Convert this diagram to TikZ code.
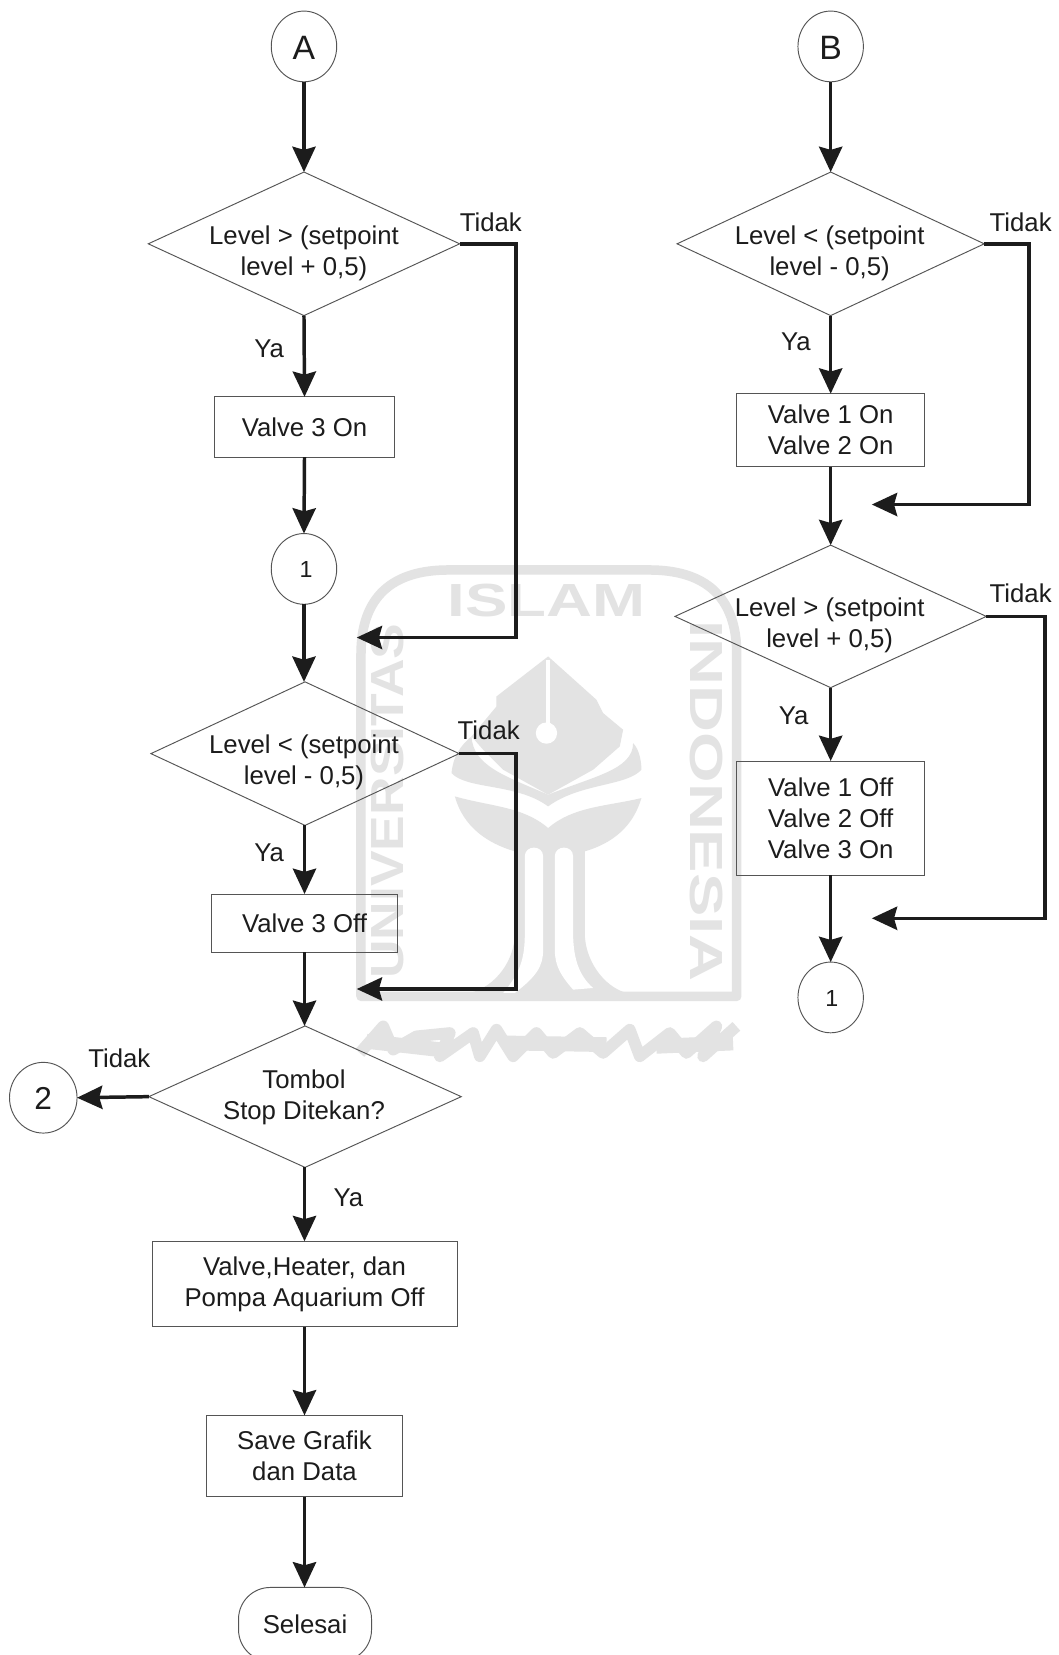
\documentclass[tikz,border=0pt]{standalone}
\usepackage{fontspec}
\setmainfont{Liberation Sans}
\usetikzlibrary{shapes.geometric,arrows.meta}
\definecolor{ink}{HTML}{1C1C1C}
\definecolor{outl}{HTML}{555555}
\definecolor{wm}{HTML}{E3E3E3}
\tikzset{
  lbl/.style={text=ink,inner sep=0pt,outer sep=0pt,align=center,font=\fontsize{24.4}{29.5}\selectfont},
  bigl/.style={lbl,font=\fontsize{32}{36}\selectfont},
  smalll/.style={lbl,font=\fontsize{22}{26}\selectfont},
  dec/.style={draw=outl,line width=0.9pt,diamond,inner sep=0pt,outer sep=0pt},
  boxn/.style={lbl,draw=outl,line width=0.9pt,rectangle},
  circn/.style={draw=outl,line width=0.9pt,ellipse,inner sep=0pt,outer sep=0pt,minimum width=62pt,minimum height=67pt},
  flow/.style={draw=ink,line width=3.3pt,-{Stealth[length=24pt,width=22pt,inset=3pt]},shorten <=0pt},
  wmtext/.style={text=wm,inner sep=0pt,font=\fontsize{44}{44}\bfseries\selectfont},
}
\begin{document}
\begin{tikzpicture}[x=1pt,y=-1pt]
\useasboundingbox (0,0) rectangle (1003,1568);
\fill[white] (0,0) rectangle (1003,1568);
% watermark
\draw[wm,line width=9pt,line join=round] (342,944) -- (342,620) .. controls (342,565) and (372,540) .. (425,540) -- (615,540) .. controls (668,540) and (698,565) .. (698,620) -- (698,944) -- cycle;
\node[wmtext] (wmI) at (518,569) {\scalebox{1.37}[1]{ISLAM}};
\node[wmtext,rotate=90] (wmU) at (367,759) {\scalebox{1.15}[1]{UNIVERSITAS}};
\node[wmtext,rotate=-90] (wmN) at (669,759) {\scalebox{1.4}[1]{INDONESIA}};
\begin{scope}[shift={(322,520.9)},x=0.3157pt,y=-0.3157pt]
  \fill[wm] (625,320) -- (770,450) -- (790,490) -- (850,540) -- (840,590) -- (760,660) -- (625,735) -- (490,660) -- (430,600) -- (395,560) -- (470,470) -- (470,440) -- cycle;
  \fill[wm] (335,670) .. controls (340,620) and (360,590) .. (395,560) .. controls (400,650) and (500,680) .. (625,735) .. controls (760,680) and (880,660) .. (880,580) .. controls (900,600) and (905,640) .. (905,660) .. controls (860,710) and (720,700) .. (625,770) .. controls (530,700) and (380,720) .. (335,670) -- cycle;
  \fill[wm] (345,740) .. controls (450,770) and (550,770) .. (625,835) .. controls (700,770) and (800,770) .. (905,745) .. controls (880,830) and (820,880) .. (735,905) -- (735,1150) .. controls (735,1230) and (790,1310) .. (860,1330) -- (390,1330) .. controls (470,1310) and (525,1230) .. (525,1150) -- (525,905) .. controls (440,880) and (370,830) .. (345,740) -- cycle;
  \fill[white] (555,920) .. controls (555,885) and (610,885) .. (610,920) -- (610,1200) .. controls (610,1250) and (590,1280) .. (525,1330) -- (490,1330) .. controls (540,1270) and (555,1230) .. (555,1150) -- cycle;
  \fill[white] (645,920) .. controls (645,885) and (700,885) .. (700,920) -- (700,1150) .. controls (700,1230) and (720,1280) .. (760,1315) -- (700,1320) .. controls (665,1280) and (645,1250) .. (645,1200) -- cycle;
  \fill[white] (618,330) -- (632,330) -- (632,540) -- (618,540) -- cycle;
  \fill[white] (620,550) circle[radius=32];
  \draw[wm,line width=11pt,line join=round] (60,1510) -- (130,1430) -- (160,1500) -- (230,1460) -- (330,1450) -- (300,1520) -- (400,1450) -- (420,1520) -- (470,1440) -- (520,1520) -- (590,1450) -- (640,1510) -- (720,1450) -- (790,1510) -- (870,1440) -- (900,1520) -- (990,1450) -- (1040,1510) -- (1130,1430) -- (1090,1520) -- (1190,1430);
  \draw[wm,line width=14pt] (80,1475) -- (300,1500) (500,1480) -- (800,1485) (950,1490) -- (1180,1480);
\end{scope}
% left column
\node[circn] (A) at (288,44) {}; \node[bigl] (At) at (288,45) {A};
\node[dec,minimum width=295pt,minimum height=136pt] (d1) at (288,231) {};
\node[lbl] (d1t) at (288,240) {Level > (setpoint\\level + 0,5)};
\node[lbl] (y1) at (255,330) {Ya};
\node[lbl] (t1) at (465,211) {Tidak};
\node[boxn,minimum width=171pt,minimum height=57pt] (v3on) at (288.5,404.5) {Valve 3 On};
\node[circn] (c1) at (288,539) {}; \node[smalll] (c1t) at (290,540) {1};
\coordinate (m1) at (338,604);
\node[dec,minimum width=292pt,minimum height=136pt] (d2) at (289,714) {};
\node[lbl] (d2t) at (288,722.5) {Level < (setpoint\\level - 0,5)};
\node[lbl] (t2) at (463,692) {Tidak};
\node[lbl] (y2) at (255,808) {Ya};
\node[boxn,minimum width=177pt,minimum height=55pt] (v3off) at (288.5,874.5) {Valve 3 Off};
\coordinate (m2) at (338,937);
\node[dec,minimum width=296pt,minimum height=134pt] (d3) at (289,1039) {};
\node[lbl] (d3t) at (288,1040) {Tombol\\Stop Ditekan?};
\node[circn,minimum width=64pt,minimum height=67pt] (c2) at (41,1040) {}; \node[bigl,font=\fontsize{30}{34}\selectfont] (c2t) at (41,1041) {2};
\node[lbl] (t3) at (113,1003) {Tidak};
\node[lbl] (y3) at (330,1135) {Ya};
\node[boxn,minimum width=289pt,minimum height=81pt] (off) at (288.5,1216.5) {Valve,Heater, dan\\Pompa Aquarium Off};
\node[boxn,minimum width=185pt,minimum height=77pt] (save) at (288.5,1379.5) {Save Grafik\\dan Data};
\node[boxn,rounded corners=30pt,minimum width=126pt,minimum height=70pt] (end) at (289,1539) {Selesai};
% right column
\node[circn] (B) at (787,44) {}; \node[bigl] (Bt) at (787,45) {B};
\node[dec,minimum width=291pt,minimum height=136pt] (d4) at (787,231) {};
\node[lbl] (d4t) at (786,240) {Level < (setpoint\\level - 0,5)};
\node[lbl] (t4) at (967,211) {Tidak};
\node[lbl] (y4) at (754,324) {Ya};
\node[boxn,minimum width=178pt,minimum height=69pt] (v12on) at (787,407.5) {Valve 1 On\\Valve 2 On};
\coordinate (m4) at (826,478);
\node[dec,minimum width=295pt,minimum height=135pt] (d5) at (787,584) {};
\node[lbl] (d5t) at (786,592.5) {Level > (setpoint\\level + 0,5)};
\node[lbl] (t5) at (967,562) {Tidak};
\node[lbl] (y5) at (752,678) {Ya};
\node[boxn,minimum width=178pt,minimum height=108pt] (v123) at (787,775) {Valve 1 Off\\Valve 2 Off\\Valve 3 On};
\coordinate (m5) at (826,870);
\node[circn] (c3) at (787,945) {}; \node[smalll] (c3t) at (788,946) {1};
% connectors
\draw[flow] (A.south) -- (d1.north);
\draw[flow] (d1.south) -- (v3on.north);
\draw[flow] (v3on.south) -- (c1.north);
\draw[flow] (c1.south) -- (d2.north -| c1.south);
\draw[flow] (d1.east) -- (489,231) |- (m1);
\draw[flow] (d2.south -| v3off.north) -- (v3off.north);
\draw[flow] (d2.east) -- (489,714) |- (m2);
\draw[flow] (v3off.south) -- (d3.north -| v3off.south);
\draw[flow] (d3.west) -- (c2.east);
\draw[flow] (d3.south -| off.north) -- (off.north);
\draw[flow] (off.south) -- (save.north);
\draw[flow] (save.south) -- (end.north -| save.south);
\draw[flow] (B.south) -- (d4.north);
\draw[flow] (d4.south) -- (v12on.north);
\draw[flow] (v12on.south) -- (d5.north);
\draw[flow] (d4.east) -- (975,231) |- (m4);
\draw[flow] (d5.south) -- (v123.north);
\draw[flow] (d5.east) -- (990,584) |- (m5);
\draw[flow] (v123.south) -- (c3.north);
\end{tikzpicture}
\end{document}
